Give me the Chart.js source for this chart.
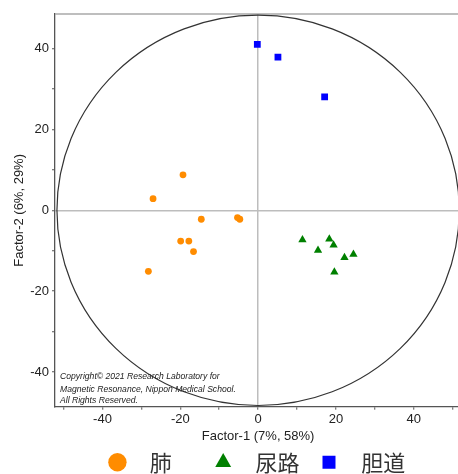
<!DOCTYPE html>
<html>
<head>
<meta charset="utf-8">
<script src="https://cdn.jsdelivr.net/npm/chart.js@4"></script>
<style>
    html, body { margin: 0; padding: 0; background: #fff; overflow: hidden; }
    #wrap { width: 458px; height: 474px; overflow: hidden; }
    canvas { display: block; }
</style>
</head>
<body>
<div id="wrap"><canvas id="pcaChart" width="466" height="474"></canvas></div>
<script>
// --- DATA ---
const SERIES_NAMES = ['肺', '尿路', '胆道'];
const LUNG_X = [-19.3, -27.0, -14.6, -5.3, -4.7, -19.9, -17.8, -16.6, -28.2];
const LUNG_Y = [8.8, 2.9, -2.2, -1.8, -2.2, -7.6, -7.6, -10.2, -15.1];
const URINARY_X = [11.4, 15.4, 18.3, 19.4, 22.2, 24.5, 19.6];
const URINARY_Y = [-7.3, -9.9, -7.1, -8.6, -11.7, -10.9, -15.3];
const BILE_X = [-0.2, 5.1, 17.1];
const BILE_Y = [41.1, 37.9, 28.1];
const X_TICKS = [-50, -40, -30, -20, -10, 0, 10, 20, 30, 40, 50];
const Y_TICKS = [-40, -30, -20, -10, 0, 10, 20, 30, 40];
const X_RANGE = [-52.2, 52.2];
const Y_RANGE = [-48.6, 48.6];
const ELLIPSE_R = { x: 51.7, y: 48.3 };   // confidence ellipse radii, data units
const COPYRIGHT = [
    'Copyright© 2021 Research Laboratory for',
    'Magnetic Resonance, Nippon Medical School.',
    'All Rights Reserved.'
];

const FONT = '"Liberation Sans", Arial, sans-serif';
const CJK = '"Noto Sans CJK JP", "Noto Sans CJK SC", sans-serif';

const pts = (xs, ys) => xs.map((x, i) => ({ x: x, y: ys[i] }));

// --- PLUGINS ---
const ellipsePlugin = {
    id: 'ellipse',
    beforeDatasetsDraw(chart) {
        const { ctx, scales: { x, y }, chartArea } = chart;
        const cx = x.getPixelForValue(0), cy = y.getPixelForValue(0);
        const rx = x.getPixelForValue(ELLIPSE_R.x) - cx;
        const ry = cy - y.getPixelForValue(ELLIPSE_R.y);
        ctx.save();
        // top frame line
        ctx.strokeStyle = '#a8a8a8';
        ctx.lineWidth = 1.5;
        ctx.beginPath();
        ctx.moveTo(chartArea.left, chartArea.top);
        ctx.lineTo(chartArea.right, chartArea.top);
        ctx.stroke();
        ctx.strokeStyle = '#333';
        ctx.lineWidth = 1.2;
        ctx.beginPath();
        ctx.ellipse(cx, cy, rx, ry, 0, 0, Math.PI * 2);
        ctx.stroke();
        ctx.restore();
    }
};

const copyrightPlugin = {
    id: 'copyright',
    afterDatasetsDraw(chart) {
        const { ctx, chartArea } = chart;
        ctx.save();
        ctx.font = 'italic 8.6px ' + FONT;
        ctx.fillStyle = '#222';
        ctx.textBaseline = 'alphabetic';
        const offs = [27.7, 15.2, 3.7];
        COPYRIGHT.forEach((line, i) => {
            ctx.fillText(line, chartArea.left + 5, chartArea.bottom - offs[i]);
        });
        ctx.restore();
    }
};

// --- CHART ---
const zeroGrid = c => (c.tick && c.tick.value === 0) ? '#bdbdbd' : 'rgba(0,0,0,0)';

new Chart(document.getElementById('pcaChart').getContext('2d'), {
    type: 'scatter',
    data: {
        datasets: [
            { label: '   ' + SERIES_NAMES[0] + '　　', data: pts(LUNG_X, LUNG_Y), pointStyle: 'circle',
              pointRadius: 3.4, backgroundColor: '#ff8c00', borderColor: '#ff8c00', borderWidth: 0 },
            { label: '   ' + SERIES_NAMES[1] + '　', data: pts(URINARY_X, URINARY_Y), pointStyle: 'triangle',
              pointRadius: 4.8, backgroundColor: '#008000', borderColor: '#008000', borderWidth: 0 },
            { label: '   ' + SERIES_NAMES[2], data: pts(BILE_X, BILE_Y), pointStyle: 'rect',
              pointRadius: 4.8, backgroundColor: '#0000ff', borderColor: '#0000ff', borderWidth: 0 }
        ]
    },
    options: {
        responsive: false,
        animation: false,
        layout: { padding: { top: 14, left: 0, right: 0, bottom: -9.3 } },
        plugins: {
            tooltip: { enabled: false },
            legend: {
                position: 'bottom',
                fullSize: false,
                labels: {
                    usePointStyle: true,
                    boxWidth: 13,
                    boxHeight: 13,
                    padding: 1,
                    color: '#333',
                    font: { family: CJK, size: 22 }
                }
            }
        },
        scales: {
            x: {
                type: 'linear',
                min: X_RANGE[0], max: X_RANGE[1],
                afterBuildTicks: s => { s.ticks = X_TICKS.map(v => ({ value: v })); },
                afterFit: s => { s.height = 43.6; },
                ticks: {
                    callback: v => (v % 20 === 0 ? v : ''),
                    color: '#222', padding: 2,
                    font: { family: FONT, size: 13 },
                    maxRotation: 0, autoSkip: false
                },
                grid: { color: zeroGrid, lineWidth: 1.5, tickColor: '#555', tickLength: 3, tickWidth: 1 },
                border: { color: '#555', width: 1.3 },
                title: { display: true, text: 'Factor-1 (7%, 58%)', color: '#222',
                         font: { family: FONT, size: 13 }, padding: { top: 2, bottom: 5.8 } }
            },
            y: {
                type: 'linear',
                min: Y_RANGE[0], max: Y_RANGE[1],
                afterBuildTicks: s => { s.ticks = Y_TICKS.map(v => ({ value: v })); },
                afterFit: s => { s.width = 55; },
                ticks: {
                    callback: v => (v % 20 === 0 ? v : ''),
                    color: '#222', padding: 3,
                    font: { family: FONT, size: 13 },
                    autoSkip: false
                },
                grid: { color: zeroGrid, lineWidth: 1.5, tickColor: '#555', tickLength: 3, tickWidth: 1 },
                border: { color: '#555', width: 1.3 },
                title: { display: true, text: 'Factor-2 (6%, 29%)', color: '#222',
                         font: { family: FONT, size: 13 }, padding: { top: 12, bottom: 0 } }
            }
        }
    },
    plugins: [ellipsePlugin, copyrightPlugin]
});
</script>
</body>
</html>
